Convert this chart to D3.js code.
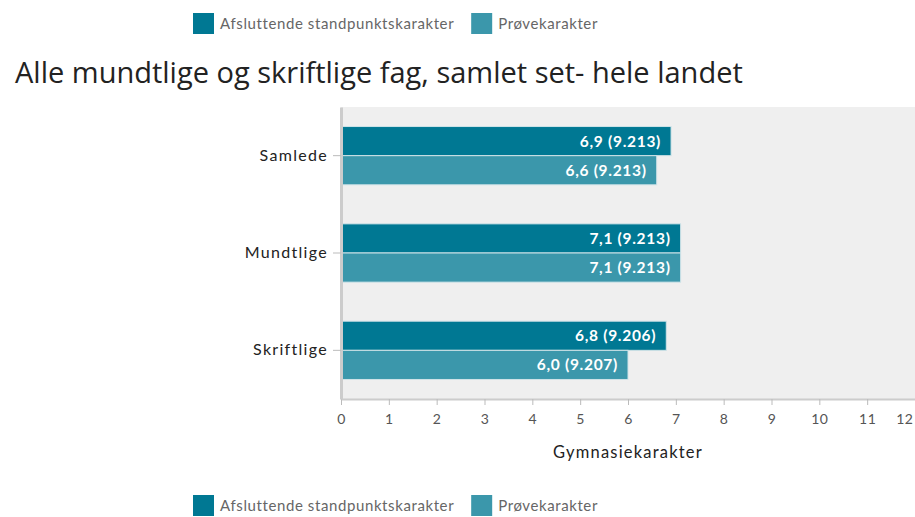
<!DOCTYPE html>
<html>
<head>
<meta charset="utf-8">
<script src="https://cdn.jsdelivr.net/npm/d3@7"></script>
<style>
  body { margin: 0; background: #fff; }
  svg { display: block; }
</style>
</head>
<body>
<svg id="chart" width="915" height="517"></svg>
<script>
const categories = ["Samlede", "Mundtlige", "Skriftlige"];
const seriesNames = ["Afsluttende standpunktskarakter", "Prøvekarakter"];
const standpunkt = [6.9, 7.1, 6.8];
const standpunktN = ["9.213", "9.213", "9.206"];
const proeve = [6.6, 7.1, 6.0];
const proeveN = ["9.213", "9.213", "9.207"];
const xTicks = [0, 1, 2, 3, 4, 5, 6, 7, 8, 9, 10, 11, 12];

const colors = ["#007893", "#3b97ab"];
const font = "Lato, 'Open Sans', sans-serif";

const width = 915;
const height = 517;
const margins = { top: 107, right: 0, bottom: 118, left: 341 };

const svg = d3.select("#chart");

const x = d3.scaleLinear()
  .domain([0, 12])
  .range([margins.left, width - margins.right]);

const y = d3.scaleBand()
  .domain(categories)
  .range([margins.top, height - margins.bottom]);

const inner = d3.scaleBand()
  .domain([0, 1])
  .range([0, y.bandwidth()])
  .paddingOuter(0.67)
  .paddingInner(0);

// title
const title = svg.append("text")
  .attr("x", 15)
  .attr("y", 83)
  .attr("font-family", "'Open Sans', sans-serif")
  .attr("font-size", 24)
  .attr("fill", "#222")
  .text("Alle mundtlige og skriftlige fag, samlet set- hele landet");
const tw = title.node().getComputedTextLength();
title.attr("font-size", 24 * 728 / tw);

// plot background
svg.append("rect")
  .attr("x", x(0))
  .attr("y", margins.top)
  .attr("width", x(12) - x(0))
  .attr("height", y.range()[1] - margins.top)
  .attr("fill", "#efefef");

// bars
const rows = categories.map((c, i) => ({
  cat: c,
  vals: [
    { s: 0, v: standpunkt[i], n: standpunktN[i] },
    { s: 1, v: proeve[i], n: proeveN[i] }
  ]
}));

const groups = svg.selectAll(".grp")
  .data(rows)
  .enter()
  .append("g")
  .attr("class", "grp")
  .attr("transform", d => `translate(0,${y(d.cat)})`);

groups.selectAll("rect")
  .data(d => d.vals)
  .enter()
  .append("rect")
  .attr("x", x(0))
  .attr("y", d => inner(d.s))
  .attr("width", d => x(d.v) - x(0))
  .attr("height", inner.bandwidth())
  .attr("fill", d => colors[d.s])
  .attr("stroke", "#cfe3e8")
  .attr("stroke-width", 1);

groups.selectAll(".lbl")
  .data(d => d.vals)
  .enter()
  .append("text")
  .attr("class", "lbl")
  .attr("x", d => x(d.v) - 10)
  .attr("y", d => inner(d.s) + inner.bandwidth() / 2)
  .attr("dy", "0.36em")
  .attr("text-anchor", "end")
  .attr("font-family", font)
  .attr("font-size", 15.5)
  .attr("font-weight", "bold")
  .attr("letter-spacing", "0.7px")
  .attr("fill", "#fff")
  .text(d => d3.format(".1f")(d.v).replace(".", ",") + " (" + d.n + ")");

// axes
const xAxis = svg.append("g")
  .attr("transform", `translate(0,${y.range()[1]})`)
  .call(d3.axisBottom(x).tickValues(xTicks).tickSize(6).tickPadding(9).tickSizeOuter(0));
xAxis.select(".domain").attr("stroke", "#cccccc").attr("stroke-width", 2);
xAxis.selectAll(".tick line").attr("stroke", "#bbbbbb");
xAxis.selectAll(".tick text")
  .attr("font-family", font)
  .attr("font-size", 14)
  .attr("letter-spacing", "0.5px")
  .attr("fill", "#555");
// last label sits at the right edge, keep it inside
xAxis.selectAll(".tick text")
  .filter(d => d === xTicks[xTicks.length - 1])
  .attr("text-anchor", "end")
  .attr("dx", -2);

const yAxis = svg.append("g")
  .attr("transform", `translate(${x(0)},0)`)
  .call(d3.axisLeft(y).tickSize(8).tickPadding(5).tickSizeOuter(0));
yAxis.select(".domain").attr("stroke", "#cccccc").attr("stroke-width", 3);
yAxis.selectAll(".tick line").attr("stroke", "#bbbbbb");
yAxis.selectAll(".tick text")
  .attr("font-family", font)
  .attr("font-size", 16)
  .attr("letter-spacing", "1.3px")
  .attr("fill", "#222");

svg.append("text")
  .attr("x", (x(0) + x(12)) / 2)
  .attr("y", 458)
  .attr("text-anchor", "middle")
  .attr("font-family", font)
  .attr("font-size", 16.5)
  .attr("letter-spacing", "1.2px")
  .attr("fill", "#222")
  .text("Gymnasiekarakter");

// legends top and bottom
function legend(yPos) {
  const g = svg.append("g").attr("transform", `translate(193,${yPos})`);
  let offset = 0;
  seriesNames.forEach((name, i) => {
    g.append("rect")
      .attr("x", offset)
      .attr("y", 0)
      .attr("width", 21)
      .attr("height", 21)
      .attr("fill", colors[i]);
    const t = g.append("text")
      .attr("x", offset + 27)
      .attr("y", 11)
      .attr("dy", "0.35em")
      .attr("font-family", font)
      .attr("font-size", 15)
      .attr("letter-spacing", "0.6px")
      .attr("fill", "#666")
      .text(name);
    offset += 27 + t.node().getComputedTextLength() + 17;
  });
}
legend(13);
legend(495);
</script>
</body>
</html>
